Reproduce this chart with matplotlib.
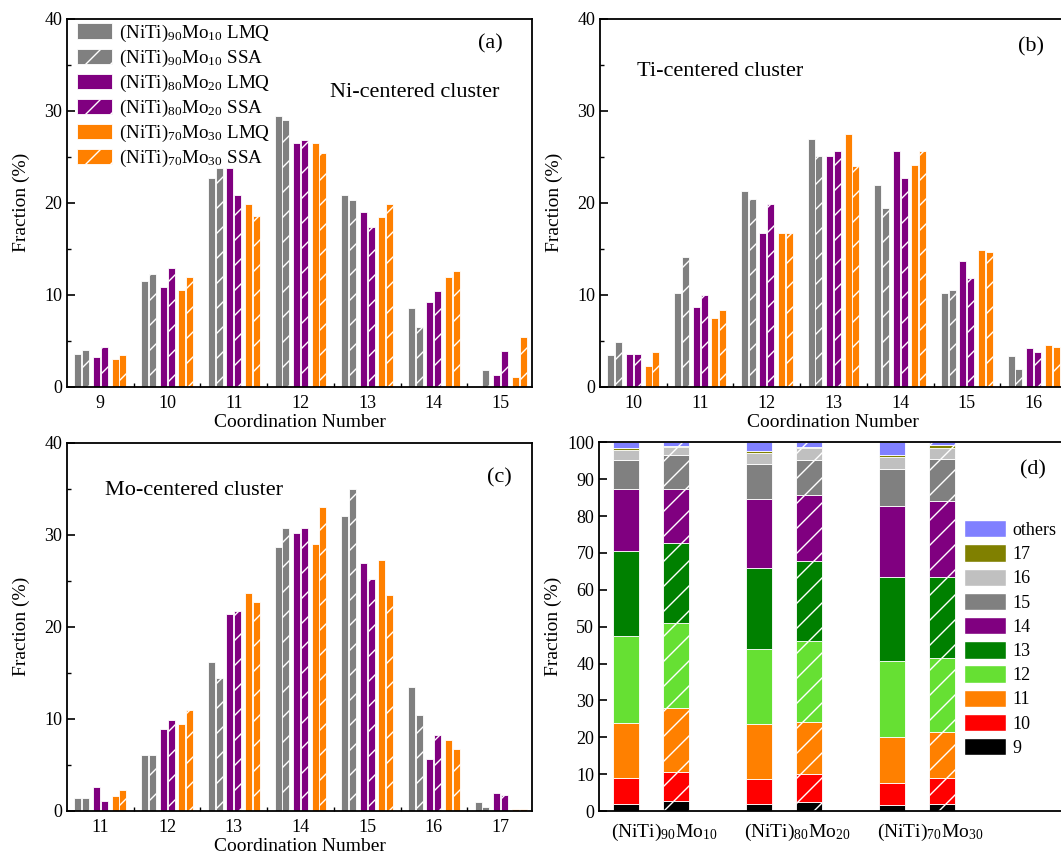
import numpy as np
import matplotlib
matplotlib.use('Agg')
import matplotlib.pyplot as plt
from matplotlib.patches import Patch
from matplotlib.ticker import MultipleLocator
from matplotlib.backend_bases import GraphicsContextBase



plt.rcParams['font.family'] = ['Liberation Serif', 'DejaVu Serif']
plt.rcParams['mathtext.fontset'] = 'custom'
plt.rcParams['mathtext.rm'] = 'Liberation Serif'
plt.rcParams['mathtext.default'] = 'regular'
plt.rcParams['hatch.linewidth'] = 1.0

# slightly denser single hatch than matplotlib default
_hatch_path = GraphicsContextBase.get_hatch_path
GraphicsContextBase.get_hatch_path = lambda self, density=8.0: _hatch_path(self, density)



# series names and colours
series = [r'(NiTi)$_{90}$Mo$_{10}$ LMQ', r'(NiTi)$_{90}$Mo$_{10}$ SSA',
          r'(NiTi)$_{80}$Mo$_{20}$ LMQ', r'(NiTi)$_{80}$Mo$_{20}$ SSA',
          r'(NiTi)$_{70}$Mo$_{30}$ LMQ', r'(NiTi)$_{70}$Mo$_{30}$ SSA']
ser_col = ['#808080', '#808080', '#800080', '#800080', '#FF8000', '#FF8000']
ser_hatch = [None, '/', None, '/', None, '/']

# (a) Ni-centered cluster, one list per series
cn_a = [9, 10, 11, 12, 13, 14, 15]
ni_90_lmq = [3.5, 11.5, 22.7, 29.4, 20.8, 8.6, 0.1]
ni_90_ssa = [4.0, 12.2, 23.8, 29.0, 20.3, 6.5, 1.8]
ni_80_lmq = [3.2, 10.8, 23.8, 26.5, 19.0, 9.2, 1.3]
ni_80_ssa = [4.3, 12.9, 20.8, 26.8, 17.4, 10.4, 3.9]
ni_70_lmq = [3.0, 10.5, 19.9, 26.5, 18.4, 11.9, 1.0]
ni_70_ssa = [3.4, 11.9, 18.5, 25.4, 19.8, 12.6, 5.4]

# (b) Ti-centered cluster
cn_b = [10, 11, 12, 13, 14, 15, 16]
ti_90_lmq = [3.4, 10.2, 21.3, 26.9, 21.9, 10.2, 3.3]
ti_90_ssa = [4.9, 14.1, 20.4, 25.1, 19.4, 10.5, 1.9]
ti_80_lmq = [3.6, 8.7, 16.7, 25.1, 25.6, 13.7, 4.2]
ti_80_ssa = [3.6, 10.0, 19.9, 25.6, 22.7, 11.8, 3.8]
ti_70_lmq = [2.2, 7.5, 16.7, 27.4, 24.1, 14.8, 4.5]
ti_70_ssa = [3.8, 8.3, 16.7, 24.0, 25.6, 14.6, 4.3]

# (c) Mo-centered cluster
cn_c = [11, 12, 13, 14, 15, 16, 17]
mo_90_lmq = [1.4, 6.1, 16.2, 28.7, 32.0, 13.4, 0.9]
mo_90_ssa = [1.4, 6.1, 14.4, 30.7, 35.0, 10.4, 0.4]
mo_80_lmq = [2.6, 8.9, 21.4, 30.2, 26.9, 5.6, 1.9]
mo_80_ssa = [1.1, 9.9, 21.7, 30.7, 25.2, 8.2, 1.7]
mo_70_lmq = [1.6, 9.4, 23.7, 29.0, 27.2, 7.7, 0.15]
mo_70_ssa = [2.2, 10.9, 22.7, 33.0, 23.4, 6.7, 0.15]

# (d) stacked fractions for Mo-centered cluster, bars: 90 LMQ, 90 SSA, 80 LMQ, 80 SSA, 70 LMQ, 70 SSA
alloys = [r'(NiTi)$_{90}$Mo$_{10}$', r'(NiTi)$_{80}$Mo$_{20}$', r'(NiTi)$_{70}$Mo$_{30}$']
d_names = ['9', '10', '11', '12', '13', '14', '15', '16', '17', 'others']
d_col = ['#000000', '#FF0000', '#FF8000', '#66E033', '#008000',
         '#800080', '#808080', '#C0C0C0', '#808000', '#8080FF']
d_9 = [2.0, 2.7, 1.8, 2.35, 1.63, 1.9]
d_10 = [6.85, 7.87, 6.8, 7.59, 5.87, 6.95]
d_11 = [15.05, 17.33, 14.9, 14.16, 12.55, 12.55]
d_12 = [23.6, 23.0, 20.5, 22.1, 20.6, 20.1]
d_13 = [23.0, 21.8, 21.9, 21.5, 22.85, 22.0]
d_14 = [16.7, 14.65, 18.8, 18.0, 19.2, 20.6]
d_15 = [7.9, 9.25, 9.5, 9.6, 10.1, 11.4]
d_16 = [2.9, 2.0, 2.9, 3.1, 3.2, 3.0]
d_17 = [0.4, 0.3, 0.5, 0.4, 0.6, 0.7]
d_oth = [1.6, 1.1, 2.4, 1.2, 3.4, 0.8]



W, H = 1061, 856
fig = plt.figure(figsize=(W / 100, H / 100), dpi=100)

def px_axes(left, top, width, height):
    # axes from pixel box of the reference
    return fig.add_axes([left / W, 1 - (top + height) / H, width / W, height / H])

def style_axes(ax):
    for s in ax.spines.values():
        s.set_linewidth(1.3)
    ax.tick_params(axis='both', which='both', direction='in', labelsize=13)
    ax.tick_params(axis='y', which='major', length=6, width=1.2)
    ax.tick_params(axis='y', which='minor', length=3, width=1.0)



offsets = [-0.337, -0.22, -0.06, 0.06, 0.22, 0.337]
bar_w = 0.105

def cluster_panel(ax, cn, data, xlim):
    cn = np.array(cn)
    for k in range(len(data)):
        ax.bar(cn + offsets[k], data[k], bar_w, color=ser_col[k], hatch=ser_hatch[k],
               edgecolor='white', linewidth=0.6, label=series[k])
    ax.set_xlim(xlim)
    ax.set_ylim(0, 40)
    ax.set_xticks(cn)
    ax.set_xticks(cn[:-1] + 0.5, minor=True)
    ax.yaxis.set_major_locator(MultipleLocator(10))
    ax.yaxis.set_minor_locator(MultipleLocator(5))
    style_axes(ax)
    ax.tick_params(axis='x', which='major', length=0, pad=6)
    ax.tick_params(axis='x', which='minor', length=3, width=1.0)
    ax.set_xlabel('Coordination Number', fontsize=14, labelpad=1.5)
    ax.set_ylabel('Fraction (%)', fontsize=14, labelpad=10)



ax_a = px_axes(67, 18.5, 465, 368.2)
cluster_panel(ax_a, cn_a, [ni_90_lmq, ni_90_ssa, ni_80_lmq, ni_80_ssa, ni_70_lmq, ni_70_ssa], (8.5, 15.47))
ax_a.legend(loc='upper left', bbox_to_anchor=(10 / 465, 1 - 4 / 368), borderaxespad=0, borderpad=0,
            frameon=False, fontsize=13.7, handlelength=1.85, handleheight=0.85,
            handletextpad=0.35, labelspacing=0.21)
ax_a.text(0.91, 0.93, '(a)', transform=ax_a.transAxes, fontsize=16, ha='center', va='center')
ax_a.text(0.566, 0.80, 'Ni-centered cluster', transform=ax_a.transAxes, fontsize=16, ha='left', va='center')

ax_b = px_axes(600, 18.5, 465, 368.2)
cluster_panel(ax_b, cn_b, [ti_90_lmq, ti_90_ssa, ti_80_lmq, ti_80_ssa, ti_70_lmq, ti_70_ssa], (9.5, 16.47))
ax_b.text(0.927, 0.922, '(b)', transform=ax_b.transAxes, fontsize=16, ha='center', va='center')
ax_b.text(0.08, 0.855, 'Ti-centered cluster', transform=ax_b.transAxes, fontsize=16, ha='left', va='center')

ax_c = px_axes(67, 442.7, 465, 368)
cluster_panel(ax_c, cn_c, [mo_90_lmq, mo_90_ssa, mo_80_lmq, mo_80_ssa, mo_70_lmq, mo_70_ssa], (10.5, 17.47))
ax_c.text(0.929, 0.904, '(c)', transform=ax_c.transAxes, fontsize=16, ha='center', va='center')
ax_c.text(0.082, 0.869, 'Mo-centered cluster', transform=ax_c.transAxes, fontsize=16, ha='left', va='center')



# (d) stacked bars
ax_d = px_axes(599, 442.3, 465, 368.7)
stack = [d_9, d_10, d_11, d_12, d_13, d_14, d_15, d_16, d_17, d_oth]
groups = np.array([1, 2, 3])
xpos = np.ravel(np.column_stack([groups - 0.188, groups + 0.188]))
d_hatch = [None, '/', None, '/', None, '/']
bottom = np.zeros(6)
for j in range(len(stack)):
    vals = np.array(stack[j])
    for k in range(6):
        ax_d.bar(xpos[k], vals[k], 0.195, bottom=bottom[k], color=d_col[j], hatch=d_hatch[k],
                 edgecolor='white', linewidth=0.6)
    bottom = bottom + vals

ax_d.set_xlim(0.609, 4.105)
ax_d.set_ylim(0, 100)
ax_d.set_xticks(groups + 0.1)
ax_d.set_xticklabels(alloys)
ax_d.yaxis.set_major_locator(MultipleLocator(10))
style_axes(ax_d)
ax_d.tick_params(axis='x', length=0, pad=8, labelsize=14)
ax_d.set_ylabel('Fraction (%)', fontsize=14, labelpad=4)

handles = [Patch(facecolor=d_col[j], edgecolor='white', label=d_names[j]) for j in range(len(d_names))][::-1]
ax_d.legend(handles=handles, loc='upper left', bbox_to_anchor=(0.785, 0.789), borderaxespad=0, borderpad=0,
            frameon=False, fontsize=13, handlelength=2.3, handleheight=1.1,
            handletextpad=0.4, labelspacing=0.30)
ax_d.text(0.933, 0.924, '(d)', transform=ax_d.transAxes, fontsize=16, ha='center', va='center')

fig.savefig('out.png', dpi=100)
